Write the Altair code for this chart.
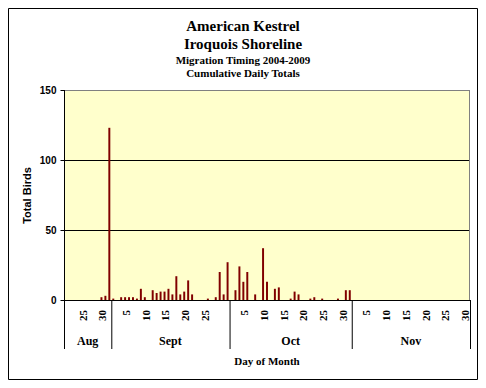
import altair as alt
import pandas as pd

# ---------------- data ----------------
months = ["Aug", "Sept", "Oct", "Nov"]
month_first = [20, 1, 1, 1]
month_last = [31, 30, 31, 30]

bar_month = (["Aug"] * 3) + (["Sept"] * 24) + (["Oct"] * 18)
bar_day = [29, 30, 31,
           1, 3, 4, 5, 6, 7, 8, 9, 11, 12, 13, 14, 15, 16, 17, 18, 19, 20, 21, 25, 27, 28, 29, 30,
           2, 3, 4, 5, 7, 9, 10, 12, 13, 16, 17, 18, 21, 22, 24, 28, 30, 31]
bar_count = [2, 3, 123,
             1, 2, 2, 2, 2, 1, 8, 2, 7, 5, 6, 6, 8, 4, 17, 4, 6, 14, 4, 1, 2, 20, 4, 27,
             7, 24, 13, 20, 4, 37, 13, 8, 9, 1, 6, 4, 1, 2, 1, 1, 7, 7]

label_month = ["Aug", "Aug"] + ["Sept"] * 5 + ["Oct"] * 6 + ["Nov"] * 6
label_day = [25, 30, 5, 10, 15, 20, 25, 5, 10, 15, 20, 25, 30, 5, 10, 15, 20, 25, 30]

y_ticks = [0, 50, 100, 150]
grid_values = [0, 50, 100, 150]
grid_colors = ["black", "black", "black", "#808080"]

title_lines = ["American Kestrel", "Iroquois Shoreline"]
subtitle_lines = ["Migration Timing 2004-2009", "Cumulative Daily Totals"]
x_title = "Day of Month"
y_title = "Total Birds"

# ---------------- derived tables ----------------
offset = {}
starts = []
acc = 0
for m, f, l in zip(months, month_first, month_last):
    offset[m] = acc - f
    starts.append(acc)
    acc += l - f + 1
n_days = acc
bounds = starts + [n_days]

bars_df = pd.DataFrame({
    "x0": [offset[m] + d + 0.25 for m, d in zip(bar_month, bar_day)],
    "x1": [offset[m] + d + 0.75 for m, d in zip(bar_month, bar_day)],
    "count": bar_count,
    "base": [0] * len(bar_count),
})
labels_df = pd.DataFrame({
    "xc": [offset[m] + d + 0.5 for m, d in zip(label_month, label_day)],
    "day": [str(d) for d in label_day],
})
months_df = pd.DataFrame({
    "mc": [(bounds[i] + bounds[i + 1]) / 2 for i in range(len(months))],
    "month": months,
})
bounds_df = pd.DataFrame({"b": bounds})
grid_df = pd.DataFrame({"y": grid_values, "c": grid_colors})

# ---------------- layout ----------------
W, H = 406, 210
SERIF = "Liberation Serif"
SANS = "Liberation Sans"

xs = alt.Scale(domain=[0, n_days], nice=False, zero=False)
ys = alt.Scale(domain=[0, 150], nice=False)
yaxis = alt.Axis(values=y_ticks, grid=False, domain=False, ticks=True, tickSize=4,
                 tickColor="black", tickWidth=1, labelFont=SANS, labelFontSize=10,
                 labelFontWeight="bold", labelColor="black", labelPadding=4,
                 title=y_title, titleFont=SANS, titleFontSize=11, titleFontWeight="bold",
                 titleColor="black", titlePadding=7)

one = pd.DataFrame({"k": [0]})

hrules = alt.Chart(grid_df).mark_rule(strokeWidth=1).encode(
    y=alt.Y("y:Q", scale=ys, axis=yaxis),
    yOffset=alt.value(0.5),
    x=alt.value(0), x2=alt.value(W),
    color=alt.Color("c:N", scale=None),
)

bars = alt.Chart(bars_df).mark_rect(color="#800000").encode(
    x=alt.X("x0:Q", scale=xs, axis=None),
    x2="x1",
    y=alt.Y("count:Q", scale=ys, axis=yaxis),
    y2="base",
)

right_rule = alt.Chart(one).mark_rule(color="#808080").encode(
    x=alt.value(W - 0.5), y=alt.value(0), y2=alt.value(H))
left_rule = alt.Chart(one).mark_rule(color="black").encode(
    x=alt.value(0.5), y=alt.value(0), y2=alt.value(H + 49))
bottom_rule = alt.Chart(one).mark_rule(color="black").encode(
    x=alt.value(0), x2=alt.value(W), y=alt.value(H + 0.5))
separators = alt.Chart(bounds_df).mark_rule(color="black").encode(
    x=alt.X("b:Q", scale=xs, axis=None),
    xOffset=alt.value(0.5),
    y=alt.value(H), y2=alt.value(H + 49))

day_labels = alt.Chart(labels_df).mark_text(
    angle=270, align="right", baseline="middle", font=SERIF, fontSize=11,
    fontWeight="bold", color="black").encode(
    x=alt.X("xc:Q", scale=xs, axis=None),
    xOffset=alt.value(-2),
    y=alt.value(H + 10),
    text="day:N")

month_labels = alt.Chart(months_df).mark_text(
    align="center", baseline="alphabetic", font=SERIF, fontSize=12,
    fontWeight="bold", color="black").encode(
    x=alt.X("mc:Q", scale=xs, axis=None),
    y=alt.value(H + 45),
    text="month:N")

def text_layer(txt, y, size):
    return alt.Chart(pd.DataFrame({"t": [txt]})).mark_text(
        align="center", baseline="alphabetic", font=SERIF, fontSize=size,
        fontWeight="bold", color="black").encode(
        x=alt.value(179), y=alt.value(y), text="t:N")

xtitle = alt.Chart(pd.DataFrame({"t": [x_title]})).mark_text(
    align="center", baseline="alphabetic", font=SERIF, fontSize=11,
    fontWeight="bold", color="black").encode(
    x=alt.value(W / 2), y=alt.value(H + 65), text="t:N")

t1 = text_layer(title_lines[0], -59, 15)
t2 = text_layer(title_lines[1], -41, 15)
t3 = text_layer(subtitle_lines[0], -26, 11)
t4 = text_layer(subtitle_lines[1], -13, 11)

frame = alt.Chart(one).mark_rect(fill="transparent", stroke="black", strokeWidth=1).encode(
    x=alt.value(-55.5), x2=alt.value(W + 7.5),
    y=alt.value(-81.5), y2=alt.value(H + 79.5))

chart = alt.layer(
    hrules, bars, right_rule, left_rule, bottom_rule, separators,
    day_labels, month_labels, xtitle, t1, t2, t3, t4, frame
).properties(
    width=W, height=H,
    autosize=alt.AutoSizeParams(type="none"),
    padding={"left": 56, "top": 82, "right": 8, "bottom": 80},
    background="white",
).configure_view(strokeWidth=0, fill="#FFFFCC")

chart.save("out.html", embed_options={"renderer": "svg", "actions": False})
